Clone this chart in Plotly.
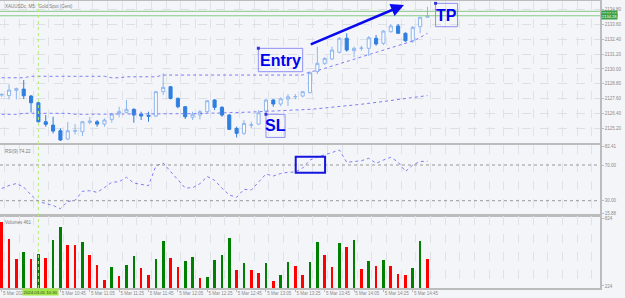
import plotly.graph_objects as go

# ---------------- data ----------------
title_text = "XAUUSDc, M5:  Gold Spot (Cent)"

opens = [2127.90, 2127.86, 2128.28, 2128.38, 2127.82, 2127.28, 2125.75, 2125.48, 2125.03, 2124.36,
         2124.99, 2124.95, 2125.70, 2125.75, 2125.56, 2125.94, 2126.43, 2126.51, 2126.75, 2126.37,
         2126.27, 2126.21, 2128.17, 2128.57, 2127.63, 2126.96, 2126.11, 2126.29, 2126.56, 2127.50,
         2126.91, 2126.29, 2125.22, 2124.82, 2125.47, 2125.56, 2126.61, 2127.50, 2127.18, 2127.58,
         2127.76, 2127.82, 2128.09, 2129.79, 2130.45, 2130.80, 2131.34, 2132.47, 2131.47, 2131.66,
         2131.66, 2132.47, 2132.06, 2133.00, 2133.46, 2132.87, 2132.27, 2133.40, 2134.16]
highs = [2128.05, 2128.76, 2128.50, 2129.11, 2127.90, 2127.34, 2126.29, 2126.15, 2125.22, 2125.73,
         2125.56, 2125.81, 2126.15, 2125.89, 2126.02, 2126.47, 2126.96, 2127.50, 2126.83, 2126.56,
         2126.56, 2128.20, 2129.65, 2128.62, 2127.71, 2127.01, 2126.56, 2126.69, 2127.50, 2127.58,
         2127.01, 2126.37, 2125.35, 2125.89, 2125.75, 2126.69, 2127.63, 2127.58, 2127.71, 2127.98,
         2127.98, 2128.22, 2129.78, 2131.79, 2130.94, 2131.79, 2132.55, 2132.87, 2131.79, 2131.87,
         2132.65, 2132.73, 2133.13, 2133.62, 2133.62, 2132.95, 2133.46, 2134.20, 2135.01]
lows = [2127.75, 2127.55, 2127.54, 2127.58, 2126.49, 2125.69, 2125.35, 2124.82, 2124.20, 2124.28,
        2124.72, 2124.60, 2125.54, 2125.35, 2125.35, 2125.67, 2126.11, 2126.47, 2125.67, 2125.89,
        2125.75, 2126.13, 2127.90, 2127.55, 2126.83, 2125.97, 2125.89, 2125.94, 2126.47, 2126.69,
        2126.15, 2125.08, 2124.49, 2124.68, 2125.22, 2125.48, 2126.47, 2126.96, 2127.01, 2127.01,
        2127.55, 2127.71, 2128.04, 2129.59, 2130.32, 2130.72, 2131.26, 2131.39, 2130.94, 2131.47,
        2131.04, 2131.87, 2131.93, 2132.92, 2132.81, 2132.19, 2132.11, 2132.87, 2134.16]
closes = [2127.95, 2128.30, 2128.42, 2127.84, 2127.28, 2125.75, 2125.54, 2125.00, 2124.28, 2125.03,
          2125.03, 2125.75, 2125.81, 2125.56, 2125.89, 2126.37, 2126.56, 2126.75, 2126.29, 2126.21,
          2126.19, 2128.17, 2128.52, 2127.63, 2126.96, 2126.15, 2126.35, 2126.56, 2127.44, 2126.91,
          2126.29, 2125.14, 2124.82, 2125.62, 2125.50, 2126.47, 2127.50, 2127.18, 2127.60, 2127.76,
          2127.78, 2128.17, 2129.70, 2130.45, 2130.85, 2131.52, 2132.47, 2131.52, 2131.66, 2131.68,
          2132.51, 2132.01, 2133.05, 2133.46, 2132.87, 2132.27, 2133.35, 2134.16, 2134.28]

upper_line = ([2129.29] * 4 + [2129.41] * 11 + [2129.29] * 2 + [2129.37] * 5 + [2129.51] * 20 +
              [2129.78, 2129.87, 2130.05, 2130.23, 2130.42, 2130.60, 2130.78, 2130.96, 2131.15,
               2131.33, 2131.52, 2131.69, 2131.88, 2132.06, 2132.25, 2132.53, 2132.87])
lower_line = ([2126.35] * 3 + [2126.43] * 7 + [2126.35] * 17 +
              [2126.41, 2126.43, 2126.44, 2126.45, 2126.47, 2126.49, 2126.51, 2126.53, 2126.56,
               2126.58, 2126.61, 2126.64, 2126.67, 2126.69, 2126.72, 2126.75, 2126.80, 2126.85,
               2126.89, 2126.96, 2127.02, 2127.10, 2127.16, 2127.22, 2127.30, 2127.38, 2127.46,
               2127.54, 2127.62, 2127.70, 2127.78, 2127.86])

rsi = [43.67, 47.03, 49.27, 45.35, 36.39, 29.11, 26.86, 24.62, 21.04, 29.11,
       30.45, 40.53, 41.21, 39.41, 44.79, 50.62, 51.29, 56.22, 49.83, 48.15,
       46.81, 68.88, 72.24, 62.72, 53.19, 44.23, 44.50, 49.05, 57.12, 52.86,
       44.20, 36.39, 33.81, 42.77, 41.99, 50.95, 59.92, 57.68, 60.48, 61.82,
       62.16, 66.64, 75.60, 78.96, 81.20, 84.01, 86.81, 73.03, 73.92, 74.82,
       77.51, 71.90, 75.60, 78.63, 73.36, 62.72, 70.00, 73.92, 74.22]

volumes = [785, 638, 463, 519, 457, 499, 470, 629, 741, 585,
           583, 608, 496, 410, 275, 390, 306, 404, 487, 375,
           315, 461, 617, 472, 392, 437, 478, 292, 295, 454,
           490, 647, 363, 422, 357, 333, 419, 262, 313, 428,
           395, 315, 428, 614, 496, 390, 605, 564, 629, 372,
           437, 395, 454, 395, 322, 313, 381, 620, 461]

time_tick_idx = [0, 8, 12, 16, 20, 24, 28, 32, 36, 40, 44, 48, 52, 56]
time_tick_labels = ["5 Mar 2024", "5 Mar 10:45", "5 Mar 11:05", "5 Mar 11:25", "5 Mar 11:45",
                    "5 Mar 12:05", "5 Mar 12:25", "5 Mar 12:45", "5 Mar 13:05", "5 Mar 13:25",
                    "5 Mar 13:45", "5 Mar 14:05", "5 Mar 14:25", "5 Mar 14:45"]
price_ticks = [2125.20, 2126.40, 2127.60, 2128.80, 2130.00, 2131.20, 2132.40, 2133.60, 2134.80]
ask_price, bid_price = 2134.64, 2134.28
rsi_levels = [70, 30]
rsi_tick_text = ["82.41", "70.00", "30.00", "15.88"]
vol_ticks = [824, 224]
rsi_label = "RSI(9) 74.22"
vol_label = "Volumes 461"
cursor_idx = 5
cursor_label = "2024.03.05 10:30"

# ---------------- styling / layout ----------------
idx = list(range(len(closes)))
vol_colors = ['#ff0000'] + ['#008000' if volumes[i] > volumes[i - 1] else '#ff0000'
                            for i in range(1, len(volumes))]

BG = '#f4f5f9'
AXC = '#bcbcbc'
TXT = '#8a8a8a'
FONT = 'Liberation Sans'
XR = [-0.23, 81.5]
XD = [0, 0.96]
LINEC = '#7d7df2'

fig = go.Figure()

fig.add_trace(go.Candlestick(
    x=idx, open=opens, high=highs, low=lows, close=closes,
    increasing=dict(line=dict(color='#8db6ee', width=1), fillcolor='#fbfcff'),
    decreasing=dict(line=dict(color='#2f7fe0', width=1), fillcolor='#2f7fe0'),
    xaxis='x', yaxis='y', showlegend=False))

fig.add_trace(go.Scatter(x=idx, y=upper_line, mode='lines', xaxis='x', yaxis='y',
                         line=dict(color=LINEC, width=1, dash='dot'), showlegend=False))
fig.add_trace(go.Scatter(x=idx, y=lower_line, mode='lines', xaxis='x', yaxis='y',
                         line=dict(color=LINEC, width=1, dash='dot'), showlegend=False))

fig.add_trace(go.Scatter(x=idx, y=rsi, mode='lines', xaxis='x2', yaxis='y2',
                         line=dict(color=LINEC, width=1, dash='dot'), showlegend=False))

fig.add_trace(go.Bar(x=idx, y=volumes, marker=dict(color=vol_colors, line=dict(width=0)),
                     width=0.36, xaxis='x3', yaxis='y3', showlegend=False))

minor = dict(tickmode='linear', tick0=0.4, dtick=2, showgrid=True, gridcolor='#dfe2e9',
             griddash='dash', gridwidth=1, ticks='')
common_x = dict(range=XR, domain=XD, showline=True, mirror=True, linecolor=AXC, linewidth=1.5,
                showgrid=False, zeroline=False, minor=minor, fixedrange=True, automargin=False)
common_y = dict(side='right', showline=True, mirror=True, linecolor=AXC, linewidth=1.5,
                zeroline=False, ticks='outside', ticklen=2, tickcolor=AXC, automargin=False,
                tickfont=dict(size=4.5, color=TXT, family=FONT), fixedrange=True)

fig.update_layout(
    width=625, height=298, margin=dict(l=0, r=0, t=0, b=0, autoexpand=False),
    paper_bgcolor=BG, plot_bgcolor=BG, boxgap=0.4, bargap=0,
    xaxis=dict(**common_x, anchor='y', showticklabels=False, rangeslider=dict(visible=False)),
    xaxis2=dict(**common_x, anchor='y2', showticklabels=False),
    xaxis3=dict(**common_x, anchor='y3', tickmode='array', tickvals=time_tick_idx,
                ticktext=time_tick_labels, ticks='outside', ticklen=2, tickcolor=AXC,
                ticklabelposition='outside right', tickangle=0,
                tickfont=dict(size=4.5, color=TXT, family=FONT)),
    yaxis=dict(**common_y, anchor='x', domain=[0.5201, 0.995], range=[2124.04, 2135.43],
               tickmode='array', tickvals=price_ticks, tickformat='.2f',
               showgrid=True, gridcolor='#dcdfe6', griddash='dash', gridwidth=1),
    yaxis2=dict(**common_y, anchor='x2', domain=[0.2785, 0.5134], range=[13.98, 92.41],
                tickmode='array', tickvals=[90.5, 70, 30, 15.88], ticktext=rsi_tick_text,
                showgrid=False),
    yaxis3=dict(**common_y, anchor='x3', domain=[0.0336, 0.2735], range=[206.3, 840],
                tickmode='array', tickvals=vol_ticks, showgrid=False),
)

shapes = []
# bid / ask lines
for p in (ask_price, bid_price):
    shapes.append(dict(type='line', xref='paper', x0=0, x1=0.96, yref='y', y0=p, y1=p,
                       line=dict(color='#86c986', width=1)))
# RSI levels
for lv in rsi_levels:
    shapes.append(dict(type='line', xref='paper', x0=0, x1=0.96, yref='y2', y0=lv, y1=lv,
                       line=dict(color='#999999', width=1, dash='dot')))
# cursor line
shapes.append(dict(type='line', xref='x', x0=cursor_idx, x1=cursor_idx, yref='paper',
                   y0=0.0336, y1=0.995, line=dict(color='#b3ee73', width=1, dash='dot')))

# text boxes (Entry / SL / TP)
boxes = [
    ("Entry", 34.96, 41.0, 2129.78, 2131.66),
    ("SL", 36.0, 38.6, 2124.49, 2126.35),
    ("TP", 59.1, 62.1, 2133.40, 2135.28),
]
annotations = []
for txt, bx0, bx1, by0, by1 in boxes:
    shapes.append(dict(type='rect', xref='x', yref='y', x0=bx0, x1=bx1, y0=by0, y1=by1,
                       line=dict(color='#8f8ff5', width=1), fillcolor='rgba(0,0,0,0)'))
    shapes.append(dict(type='rect', xref='x', yref='y', xsizemode='pixel', ysizemode='pixel',
                       xanchor=bx0, yanchor=by1, x0=-1.5, x1=1.5, y0=-1.5, y1=1.5,
                       line=dict(width=0), fillcolor='#3434d8'))
    annotations.append(dict(x=(bx0 + bx1) / 2, y=(by0 + by1) / 2, xref='x', yref='y',
                            text='<b>%s</b>' % txt, showarrow=False,
                            font=dict(size=16, color='#0000f0', family=FONT)))

# RSI highlight rectangle
shapes.append(dict(type='rect', xref='x2', yref='y2', x0=40.05, x1=44.05, y0=61.4, y1=79.3,
                   line=dict(color='#1515e0', width=2), fillcolor='rgba(0,0,0,0)'))

# arrow
annotations.append(dict(x=54.8, y=2135.15, ax=41.9, ay=2131.93, xref='x', yref='y',
                        axref='x', ayref='y', text='', showarrow=True, arrowhead=2,
                        arrowsize=1, arrowwidth=2.6, arrowcolor='#0a0aee'))

# header labels
annotations.append(dict(x=0.004, y=0.993, xref='paper', yref='paper', xanchor='left',
                        yanchor='top', text=title_text, showarrow=False,
                        font=dict(size=4.5, color='#7a7a7a', family=FONT)))
annotations.append(dict(x=0.004, y=0.508, xref='paper', yref='paper', xanchor='left',
                        yanchor='top', text=rsi_label, showarrow=False,
                        font=dict(size=4.5, color='#7a7a7a', family=FONT)))
annotations.append(dict(x=0.004, y=0.268, xref='paper', yref='paper', xanchor='left',
                        yanchor='top', text=vol_label, showarrow=False,
                        font=dict(size=4.5, color='#7a7a7a', family=FONT)))

# bid/ask price tags
for p, ys in ((ask_price, -2.0), (bid_price, -1.2)):
    annotations.append(dict(x=0.9618, y=p, xref='paper', yref='y', xanchor='left',
                            yanchor='middle', yshift=ys, text='%.2f' % p, showarrow=False,
                            bgcolor='#39a043', borderpad=0,
                            font=dict(size=4.0, color='#ffffff', family=FONT)))

# cursor time tag
annotations.append(dict(x=cursor_idx, y=0.0185, xref='x3', yref='paper', xanchor='center',
                        yanchor='middle', xshift=2, text=cursor_label, showarrow=False,
                        bgcolor='#a3e846', borderpad=0.5,
                        font=dict(size=4.3, color='#3a3a3a', family=FONT)))

fig.update_layout(shapes=shapes, annotations=annotations)
fig.write_html("out.html")
